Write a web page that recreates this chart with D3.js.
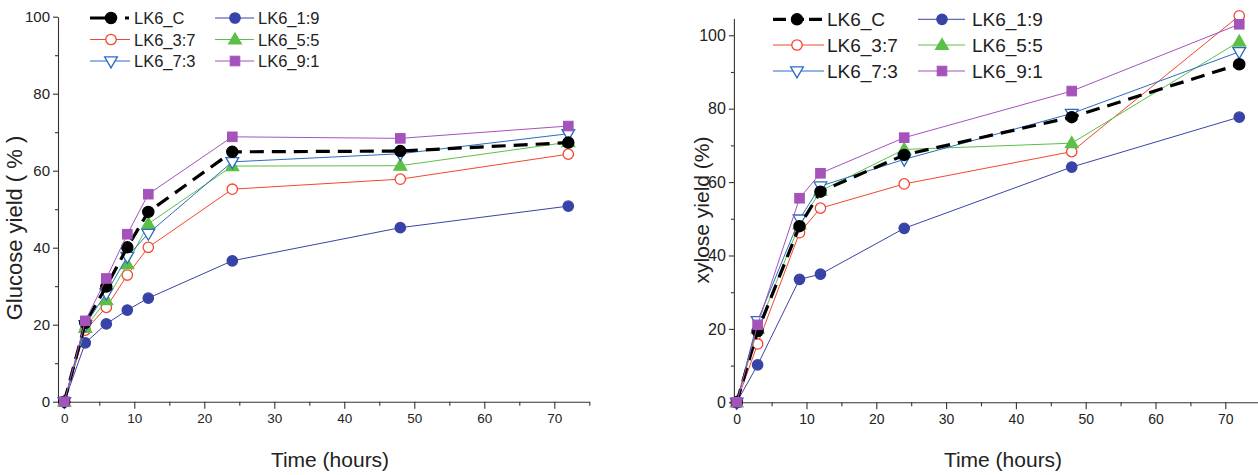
<!DOCTYPE html>
<html><head><meta charset="utf-8">
<script src="https://cdn.jsdelivr.net/npm/d3@7"></script>
<style>body{margin:0;background:#fff}svg{display:block}text{font-family:Arial,"Liberation Sans",sans-serif;fill:#222}</style>
</head><body>
<svg id="c" width="1258" height="475"></svg>
<script>
// ---- data ----
const seriesNames = ["LK6_C","LK6_1:9","LK6_3:7","LK6_5:5","LK6_7:3","LK6_9:1"];
const timesGlucose = [0,3,6,9,12,24,48,72];
const glucoseC   = [0,20.5,29.9,40.1,49.3,64.9,65.1,67.3];
const glucose19  = [0,15.3,20.2,23.8,26.9,36.6,45.2,50.8];
const glucose37  = [0,18.6,24.5,32.9,40.1,55.2,57.8,64.3];
const glucose55  = [0,19.2,26.4,35.7,46.2,61.2,61.3,67.4];
const glucose73  = [0,20.0,28.2,37.7,43.7,62.3,64.4,69.6];
const glucose91  = [0,21.0,32.0,43.5,53.9,68.8,68.4,71.6];
const timesXylose = [0,3,9,12,24,48,72];
const xyloseC   = [0,19.4,48.0,57.4,67.4,77.7,92.1];
const xylose19  = [0,10.2,33.5,34.9,47.4,64.1,77.7];
const xylose37  = [0,15.9,46.2,52.9,59.5,68.3,105.3];
const xylose55  = [0,20.0,48.5,57.6,68.9,70.6,98.3];
const xylose73  = [0,22.2,49.9,58.9,66.2,78.7,95.5];
const xylose91  = [0,21.1,55.6,62.4,72.1,84.8,103.0];
const xTickMajor = [0,10,20,30,40,50,60,70];
const xTickMinor = [5,15,25,35,45,55,65,75];
const yTickMajor = [0,20,40,60,80,100];
const yTickMinor = [10,30,50,70,90];

// ---- styles ----
const styles = {
  "LK6_C":  {color:"#000000", shape:"circle",   fill:true,  width:3.2, dash:"14,8"},
  "LK6_1:9":{color:"#3843a8", shape:"circle",   fill:true,  width:1},
  "LK6_3:7":{color:"#f4462e", shape:"circle",   fill:false, width:1},
  "LK6_5:5":{color:"#5cbf48", shape:"triangle", fill:true,  width:1},
  "LK6_7:3":{color:"#2b6cc0", shape:"down",     fill:false, width:1},
  "LK6_9:1":{color:"#a453bb", shape:"square",   fill:true,  width:1}
};
const drawOrder = ["LK6_3:7","LK6_1:9","LK6_5:5","LK6_7:3","LK6_C","LK6_9:1"];

const svg = d3.select("#c");

function marker(g, name, cx, cy){
  const s = styles[name];
  const fill = s.fill ? s.color : "#fff";
  if (s.shape==="circle"){
    g.append("circle").attr("cx",cx).attr("cy",cy).attr("r",name==="LK6_C"?5.6:5.2)
      .attr("fill",fill).attr("stroke",s.color).attr("stroke-width",1.3);
  } else if (s.shape==="square"){
    g.append("rect").attr("x",cx-4.8).attr("y",cy-4.8).attr("width",9.6).attr("height",9.6)
      .attr("fill",fill).attr("stroke",s.color).attr("stroke-width",1);
  } else {
    const sym = d3.symbol().type(d3.symbolTriangle).size(70)();
    g.append("path").attr("d",sym)
      .attr("transform",`translate(${cx},${cy + (s.shape==="down"?-0.5:0.8)}) rotate(${s.shape==="down"?180:0})`)
      .attr("fill",fill).attr("stroke",s.color).attr("stroke-width",1.3);
  }
}

function panel(cfg){
  const g = svg.append("g");
  const x = d3.scaleLinear().domain(cfg.xDomain).range(cfg.xRange);
  const y = d3.scaleLinear().domain(cfg.yDomain).range(cfg.yRange);
  const axCol = "#333";
  // x axis
  const xa = g.append("g").attr("transform",`translate(0,${cfg.yRange[0]})`)
    .call(d3.axisBottom(x).tickValues(xTickMajor).tickSize(7).tickSizeOuter(0).tickPadding(5));
  g.append("g").attr("transform",`translate(0,${cfg.yRange[0]})`)
    .call(d3.axisBottom(x).tickValues(xTickMinor).tickSize(4).tickSizeOuter(0).tickFormat(""))
    .select(".domain").remove();
  xa.attr("font-size",null);
  xa.selectAll("text").style("font-size",cfg.xTickFont+"px").attr("fill","#333");
  // y axis
  const ya = g.append("g").attr("transform",`translate(${cfg.xRange[0]},0)`)
    .call(d3.axisLeft(y).tickValues(yTickMajor).tickSize(5).tickSizeOuter(0).tickPadding(3));
  g.append("g").attr("transform",`translate(${cfg.xRange[0]},0)`)
    .call(d3.axisLeft(y).tickValues(yTickMinor).tickSize(3).tickSizeOuter(0).tickFormat(""))
    .select(".domain").remove();
  ya.attr("font-size",null);
  ya.selectAll("text").style("font-size",cfg.yTickFont+"px").attr("fill","#333");
  g.selectAll(".domain, .tick line").attr("stroke",axCol).attr("stroke-width",1.1);

  // titles
  g.append("text").attr("x",cfg.xTitle[0]).attr("y",cfg.xTitle[1]).attr("text-anchor","middle")
    .style("font-size","21px").text("Time (hours)");
  g.append("text").attr("transform",`translate(${cfg.yTitle[0]},${cfg.yTitle[1]}) rotate(-90)`)
    .attr("text-anchor","middle").attr("dominant-baseline","central")
    .style("font-size",cfg.yTitleFont+"px").text(cfg.yTitleText);

  // series
  const line = d3.line().x(d=>x(d[0])).y(d=>y(d[1]));
  drawOrder.forEach(name=>{
    const vals = cfg.data[name];
    const pts = cfg.times.map((t,i)=>[t,vals[i]]);
    const s = styles[name];
    const sg = g.append("g");
    sg.append("path").attr("d",line(pts)).attr("fill","none").attr("stroke",s.color)
      .attr("stroke-width",s.width).attr("stroke-dasharray",s.dash||null);
    pts.forEach(p=>marker(sg,name,x(p[0]),y(p[1])));
  });

  // legend
  const L = cfg.legend;
  const legOrder = [["LK6_C","LK6_1:9"],["LK6_3:7","LK6_5:5"],["LK6_7:3","LK6_9:1"]];
  legOrder.forEach((row,ri)=>{
    row.forEach((name,ci)=>{
      const col = L.cols[ci];
      const cy = L.rows[ri];
      const s = styles[name];
      const lg = g.append("g");
      lg.append("line").attr("x1",col.x1).attr("x2",col.x2).attr("y1",cy).attr("y2",cy)
        .attr("stroke",s.color).attr("stroke-width",s.width)
        .attr("stroke-dasharray",name==="LK6_C"?L.cDash:null);
      marker(lg,name,col.m,cy);
      lg.append("text").attr("x",col.t).attr("y",cy).attr("dominant-baseline","central")
        .style("font-size",L.font+"px").text(name);
    });
  });
}

panel({
  xDomain:[-0.9,75], xRange:[58,589.3],
  yDomain:[0,100], yRange:[401.7,16.7],
  times: timesGlucose,
  data:{"LK6_C":glucoseC,"LK6_1:9":glucose19,"LK6_3:7":glucose37,"LK6_5:5":glucose55,"LK6_7:3":glucose73,"LK6_9:1":glucose91},
  xTickFont:13.5, yTickFont:15,
  xTitle:[330,467], yTitle:[14,228], yTitleFont:22, yTitleText:"Glucose yield ( % )",
  legend:{font:16.5, rows:[18,39.5,61], cDash:"19,16,4,100",
    cols:[{x1:90,x2:130,m:111,t:134},{x1:215,x2:254,m:235,t:258}]}
});
panel({
  xDomain:[-0.4,75], xRange:[733.9,1260.2],
  yDomain:[0,104.6], yRange:[402.3,18.4],
  times: timesXylose,
  data:{"LK6_C":xyloseC,"LK6_1:9":xylose19,"LK6_3:7":xylose37,"LK6_5:5":xylose55,"LK6_7:3":xylose73,"LK6_9:1":xylose91},
  xTickFont:14, yTickFont:16,
  xTitle:[1003,467], yTitle:[701,210], yTitleFont:21, yTitleText:"xylose yield (%)",
  legend:{font:19, rows:[19.3,45,71], cDash:"13,5,13,5,13,100",
    cols:[{x1:773,x2:824,m:797,t:827},{x1:918,x2:965,m:942,t:972}]}
});
</script>
</body></html>
